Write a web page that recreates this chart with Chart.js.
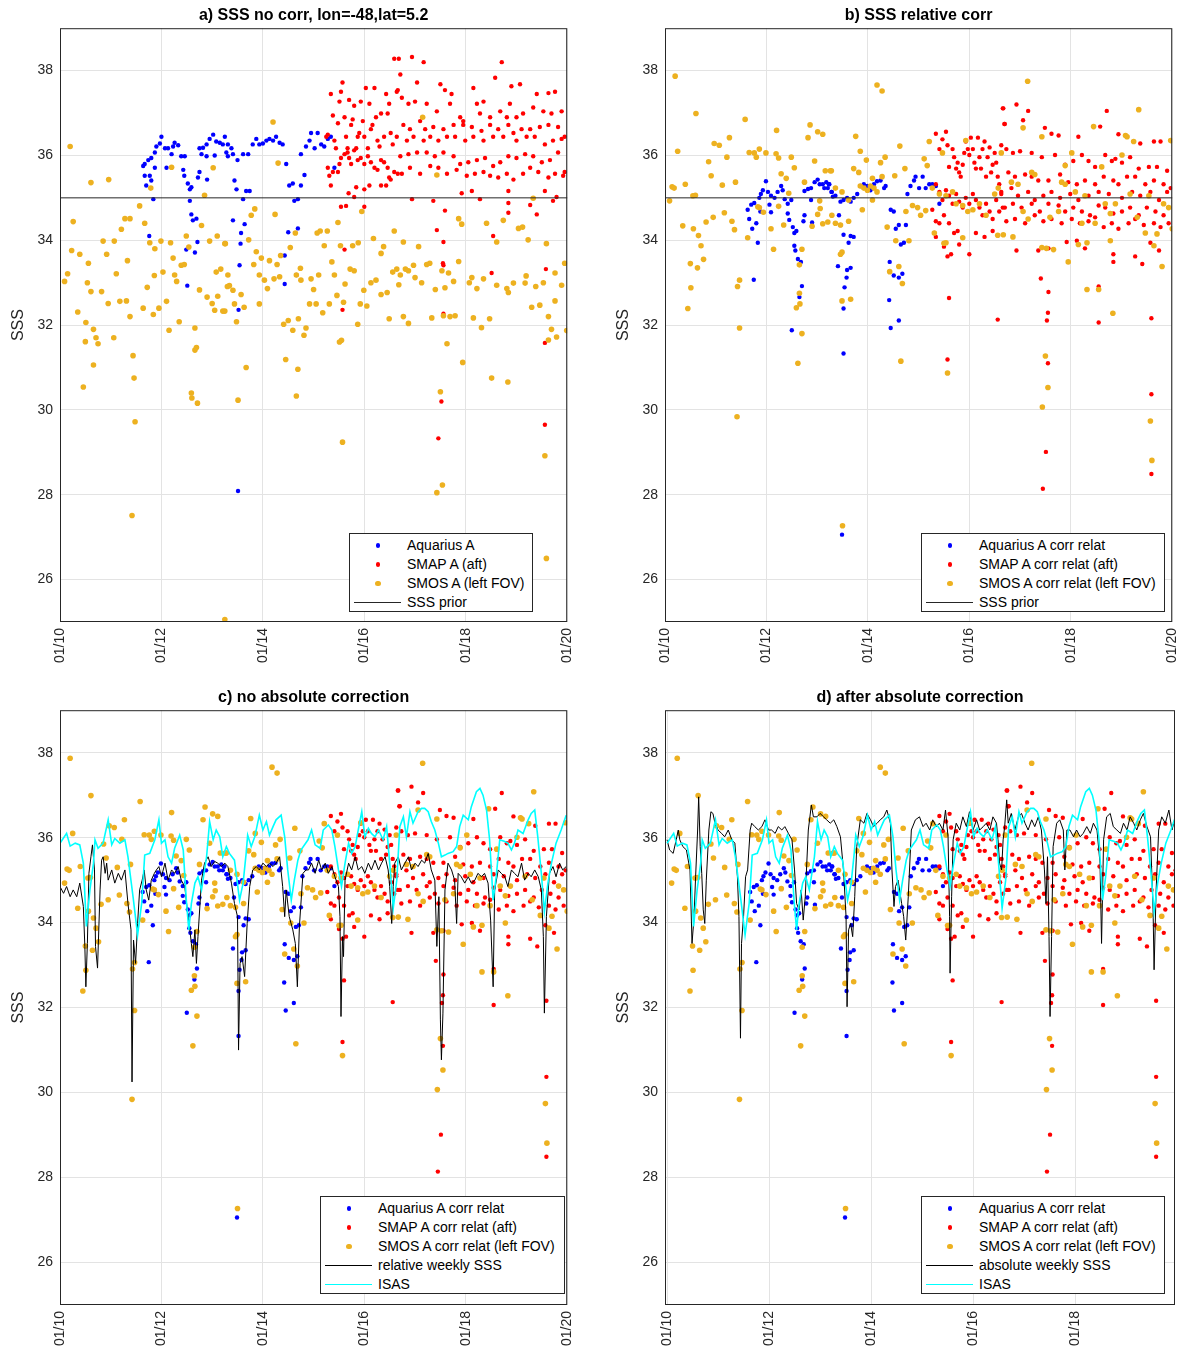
<!DOCTYPE html>
<html>
<head>
<meta charset="utf-8">
<script src="https://cdn.jsdelivr.net/npm/chart.js@4.4.1/dist/chart.umd.min.js"></script>
<style>
  body { margin: 0; background: #fff; width: 1183px; height: 1354px; position: relative; overflow: hidden; }
  canvas { position: absolute; }
  .legend { position: absolute; border: 1px solid #262626; background: #fff; box-sizing: border-box;
            font-family: "Liberation Sans", Arial, sans-serif; font-size: 14px; color: #000; padding-top: 2px; }
  .legend .row { height: 19px; line-height: 19px; position: relative; white-space: nowrap; }
  .legend .mk { position: absolute; left: 0; top: 0; width: 57px; height: 19px; }
  .legend .txt { position: absolute; left: 57px; top: 0; }
  .legend .dot { position: absolute; top: 50%; border-radius: 50%; }
  .legend .ln { position: absolute; left: 4px; width: 47px; top: 9px; }
</style>
</head>
<body>
<canvas id="chart-a" width="590" height="680" style="left:0;top:0"></canvas>
<canvas id="chart-b" width="590" height="680" style="left:605px;top:0"></canvas>
<canvas id="chart-c" width="590" height="681" style="left:0;top:682px"></canvas>
<canvas id="chart-d" width="590" height="681" style="left:605px;top:682px"></canvas>
<div id="legend-a" class="legend" style="left:349px;top:533px;width:184px;height:79px"></div>
<div id="legend-b" class="legend" style="left:921px;top:533px;width:244px;height:79px"></div>
<div id="legend-c" class="legend" style="left:320px;top:1196px;width:245px;height:98px"></div>
<div id="legend-d" class="legend" style="left:921px;top:1196px;width:244px;height:98px"></div>
<script>
// x values are years (10 = Jan 2010)
const yTicks = [26, 28, 30, 32, 34, 36, 38];
const xTicks = [10, 12, 14, 16, 18, 20];
const ssPrior = 35;

// a) no correction
const aquariusRaw = [[11.64,35.75],[11.67,35.8],[11.74,35.89],[11.8,35.94],[11.87,36.07],[11.9,36.21],[11.97,36.28],[12.0,36.44],[12.07,36.17],[12.13,36.17],[12.2,36.03],[12.23,36.21],[12.26,36.3],[12.33,36.24],[12.39,35.98],[12.46,35.98],[11.67,35.52],[11.7,35.29],[11.77,35.52],[11.8,35.41],[11.84,34.97],[11.87,35.71],[12.1,35.71],[12.43,35.66],[12.45,35.52],[12.52,35.34],[12.56,35.2],[12.59,35.25],[12.56,34.93],[12.59,34.61],[12.62,34.47],[12.69,34.51],[11.76,34.1],[12.49,33.78],[12.51,32.93],[12.66,33.71],[12.71,33.96],[12.75,36.17],[12.82,36.18],[12.89,36.26],[12.95,36.39],[13.02,36.49],[13.08,36.33],[13.15,36.3],[13.21,36.26],[13.28,36.07],[13.31,35.98],[12.79,36.03],[12.89,35.98],[13.05,36.0],[12.72,35.48],[12.75,35.61],[12.9,35.43],[13.25,36.44],[13.31,36.26],[13.38,36.17],[13.41,36.03],[13.44,35.41],[13.48,35.2],[13.5,35.89],[13.61,36.03],[13.67,35.16],[13.74,35.16],[13.61,34.97],[13.71,36.03],[13.8,36.26],[13.87,36.39],[13.93,36.26],[14.0,36.28],[14.07,36.35],[14.13,36.39],[14.2,36.35],[14.26,36.44],[14.33,36.3],[14.39,36.26],[13.41,34.47],[13.57,34.17],[13.56,33.92],[13.64,34.38],[13.54,33.41],[13.52,32.36],[13.51,28.09],[14.43,33.64],[14.46,35.8],[14.52,35.29],[14.59,35.34],[14.62,34.93],[14.69,34.97],[14.75,35.29],[14.82,35.54],[14.5,34.19],[14.43,32.97],[14.66,33.18],[14.69,34.28],[14.75,36.03],[14.85,36.21],[14.92,36.35],[14.95,36.53],[15.02,36.17],[15.08,36.53],[15.15,36.26],[15.21,36.21],[15.28,36.39],[15.34,36.44],[15.41,35.71]];

const smapRaw = [[15.25,36.44],[15.28,36.49],[15.34,37.45],[15.38,36.94],[15.41,36.35],[15.44,36.17],[15.48,36.76],[15.51,37.27],[15.54,37.5],[15.57,37.72],[15.61,36.9],[15.64,36.44],[15.67,36.17],[15.7,37.31],[15.74,36.72],[15.77,36.85],[15.8,37.17],[15.84,36.17],[15.87,36.44],[15.9,36.53],[15.93,37.27],[15.97,36.81],[16.0,36.44],[16.03,37.59],[16.07,36.17],[16.1,37.22],[16.13,36.62],[16.16,36.72],[16.2,37.59],[16.23,36.9],[16.26,36.35],[16.3,36.21],[16.33,36.99],[16.39,36.44],[16.43,37.45],[16.46,36.99],[16.49,37.22],[16.52,36.53],[16.56,36.26],[16.59,38.28],[16.66,37.54],[15.28,35.71],[15.31,35.52],[15.34,35.29],[15.38,35.61],[15.48,35.61],[15.51,35.8],[15.54,35.94],[15.61,36.03],[15.67,36.07],[15.7,35.94],[15.74,35.8],[15.8,36.12],[15.87,35.89],[15.93,35.94],[16.0,35.8],[16.07,35.98],[16.13,35.84],[16.2,35.71],[16.26,35.66],[16.33,35.89],[16.39,35.84],[16.46,35.71],[16.52,35.43],[16.59,35.61],[16.66,35.57],[15.54,34.79],[15.64,34.81],[15.61,33.78],[15.57,32.36],[15.69,35.11],[15.8,35.02],[15.84,35.25],[16.0,35.2],[16.1,35.29],[16.33,35.29],[16.43,35.29],[16.49,35.48],[16.0,34.79],
  [16.68,38.28],[16.94,38.32],[17.17,38.2],[16.71,37.91],[17.04,37.72],[17.5,37.68],[17.59,37.54],[17.72,37.45],[18.15,37.59],[18.58,37.83],[18.71,38.2],[18.9,37.63],[19.07,37.68],[19.4,37.45],[19.63,37.47],[19.76,37.5],[16.64,37.5],[16.74,37.36],[16.87,37.22],[17.0,37.27],[17.23,37.22],[17.43,37.04],[17.69,37.22],[17.89,36.9],[17.95,36.81],[18.22,37.22],[18.28,36.99],[18.35,37.27],[18.48,36.9],[18.68,37.04],[18.81,36.9],[18.87,37.22],[19.0,36.9],[19.13,36.99],[19.33,37.13],[19.53,37.04],[19.69,36.99],[19.89,37.04],[16.77,36.72],[16.9,36.62],[17.1,36.81],[17.2,36.62],[17.36,36.67],[17.56,36.62],[17.76,36.72],[17.95,36.72],[18.12,36.67],[18.31,36.58],[18.48,36.72],[18.64,36.62],[18.84,36.72],[18.94,36.53],[19.1,36.62],[19.27,36.62],[19.46,36.67],[19.63,36.72],[19.82,36.67],[19.95,36.44],[16.64,36.44],[16.84,36.35],[16.97,36.44],[17.17,36.35],[17.3,36.44],[17.46,36.35],[17.63,36.44],[17.79,36.44],[17.99,36.35],[18.15,36.44],[18.35,36.35],[18.54,36.44],[18.74,36.44],[19.0,36.35],[19.2,36.44],[19.36,36.44],[19.56,36.26],[19.72,36.35],[19.89,36.39],[16.71,35.98],[16.87,36.03],[17.04,36.07],[17.23,36.07],[17.39,35.98],[17.56,36.07],[17.76,35.98],[17.89,35.8],[18.05,35.84],[18.22,35.89],[18.38,35.94],[18.54,35.75],[18.68,35.84],[18.84,35.98],[19.0,35.94],[19.17,36.03],[19.33,35.98],[19.5,35.84],[19.66,35.89],[19.82,36.07],[19.95,35.61],[16.74,35.57],[16.9,35.71],[17.1,35.57],[17.3,35.75],[17.46,35.71],[17.63,35.57],[17.82,35.66],[18.02,35.52],[18.18,35.57],[18.35,35.61],[18.48,35.52],[18.64,35.48],[18.81,35.57],[18.94,35.43],[19.13,35.57],[19.27,35.71],[19.43,35.61],[19.63,35.48],[19.76,35.57],[19.92,35.52],[16.94,34.97],[17.36,34.93],[17.59,34.7],[17.92,35.11],[18.12,35.16],[18.28,34.97],[18.84,35.16],[18.84,34.88],[18.84,34.65],[19.27,34.83],[19.4,34.61],[19.56,35.16],[19.72,34.93],[19.79,35.02],[17.43,34.24],[17.56,33.96],[18.54,34.1],[17.55,33.46],[17.56,33.41],[18.51,33.23],[17.56,32.27],[19.58,33.32],[19.56,31.58],[17.52,30.2],[17.46,29.33],[19.56,29.65]];

const smosRaw = [[10.2,36.21],[10.61,35.36],[10.96,35.43],[12.2,35.72],[11.79,35.23],[13.02,35.71],[12.85,35.06],[11.57,34.81],[10.26,34.44],[11.28,34.51],[11.38,34.51],[11.67,34.4],[11.21,34.26],[10.85,33.98],[11.07,33.98],[11.77,33.94],[11.87,33.8],[11.99,33.98],[12.18,33.94],[12.49,34.1],[12.54,33.84],[12.79,34.35],[12.95,33.98],[13.1,34.1],[13.26,33.92],[10.23,33.76],[10.39,33.67],[10.56,33.46],[10.92,33.67],[11.33,33.52],[12.23,33.58],[12.39,33.41],[12.45,33.43],[10.15,33.21],[10.09,33.03],[10.54,33.0],[10.61,32.79],[10.82,32.79],[11.11,33.21],[11.72,32.89],[11.86,33.17],[12.03,33.25],[12.26,33.18],[12.3,33.03],[12.75,32.83],[13.17,33.32],[13.08,33.25],[13.3,32.91],[10.35,32.31],[10.51,32.06],[10.66,31.9],[10.95,32.51],[11.18,32.56],[11.31,32.57],[11.38,32.2],[11.64,32.4],[11.84,32.25],[11.95,32.4],[12.1,32.56],[12.9,32.66],[13.0,32.51],[13.11,32.68],[13.05,32.35],[13.21,32.33],[10.5,31.61],[10.71,31.7],[10.75,31.56],[11.06,31.7],[12.15,31.88],[12.35,32.08],[12.66,31.93],[10.66,31.06],[11.44,31.28],[11.46,30.75],[12.66,31.41],[12.69,31.47],[10.46,30.54],[12.59,30.4],[12.6,30.28],[12.71,30.16],[11.48,29.72],[11.42,27.51],
  [14.2,36.79],[14.3,35.82],[13.84,34.74],[13.77,34.59],[14.24,34.61],[13.72,34.01],[13.25,33.92],[13.87,33.73],[13.82,33.43],[13.97,33.58],[14.13,33.52],[14.28,33.43],[14.35,33.64],[14.54,33.83],[14.64,34.17],[14.74,33.34],[15.07,34.17],[15.13,34.22],[15.27,34.22],[15.21,33.87],[15.36,33.49],[15.48,34.42],[15.53,33.87],[15.77,33.87],[15.88,33.94],[15.95,34.68],[16.18,34.04],[16.33,33.69],[16.38,33.85],[16.59,34.22],[16.64,33.32],[13.34,32.93],[13.41,32.82],[13.31,33.18],[13.57,32.72],[13.44,32.5],[13.63,32.42],[13.93,32.5],[13.93,33.18],[14.03,33.06],[14.09,32.86],[14.22,33.09],[14.33,33.14],[14.75,33.06],[14.66,33.18],[14.95,33.09],[15.0,32.84],[15.1,33.18],[15.41,33.18],[15.62,32.97],[15.72,33.32],[15.8,33.28],[15.99,32.82],[16.13,33.0],[16.23,33.06],[16.33,32.72],[16.45,32.77],[16.56,33.25],[13.25,32.33],[13.48,32.08],[14.41,32.02],[14.5,32.11],[14.59,31.88],[14.7,32.15],[14.81,31.76],[14.85,31.93],[14.92,32.5],[15.05,32.5],[15.18,32.29],[15.31,32.5],[15.46,32.7],[15.59,32.54],[15.92,32.5],[16.05,32.45],[15.87,32.02],[16.49,32.15],[15.51,31.6],[15.55,31.64],[13.67,31.0],[14.45,31.19],[14.69,30.96],[13.51,30.23],[14.66,30.33],[15.57,29.24],[13.25,25.06],
  [17.15,36.9],[17.43,35.54],[16.77,33.96],[17.07,33.85],[16.81,33.32],[16.97,33.41],[17.23,33.43],[17.29,33.46],[17.53,33.28],[17.66,33.23],[17.86,33.5],[17.92,34.38],[17.86,34.51],[18.41,34.4],[18.61,33.96],[18.74,34.47],[19.04,34.28],[19.12,34.31],[19.23,34.01],[19.33,34.99],[19.59,33.92],[19.95,33.46],[16.71,33.18],[16.87,33.28],[16.68,32.95],[17.0,33.12],[17.13,33.0],[17.4,32.84],[17.59,32.88],[17.76,33.03],[18.07,33.0],[18.12,33.12],[18.22,32.86],[18.35,33.09],[18.61,32.94],[18.81,32.86],[18.84,32.77],[18.94,32.99],[19.17,32.99],[19.19,33.16],[19.38,32.91],[19.53,33.0],[19.76,33.23],[19.89,32.94],[16.77,32.2],[16.87,32.04],[17.33,32.17],[17.56,32.22],[17.69,32.2],[17.79,32.22],[18.15,32.17],[18.31,31.94],[18.47,32.15],[19.3,32.42],[19.46,32.47],[19.63,32.2],[19.76,32.57],[19.69,31.9],[19.63,31.65],[19.79,31.72],[19.99,31.87],[17.63,31.56],[17.94,31.12],[18.51,30.75],[18.83,30.66],[17.5,30.43],[17.43,28.05],[17.54,28.23],[19.56,28.92],[19.59,26.5]];

// b), c), d) relative correction
const aquariusRel = [[11.63,34.72],[11.7,34.84],[11.76,34.88],[11.86,35.0],[11.89,35.09],[11.93,35.18],[11.99,35.39],[12.03,35.14],[12.09,35.05],[12.16,35.0],[12.22,35.14],[12.29,35.28],[12.32,35.18],[12.36,34.97],[12.42,34.86],[12.49,34.95],[11.66,34.5],[11.72,34.27],[11.8,34.4],[11.83,33.94],[11.88,34.68],[12.06,34.84],[12.09,34.66],[12.42,34.63],[12.45,34.48],[12.52,34.31],[12.55,34.17],[12.59,34.22],[12.55,33.87],[12.57,33.76],[12.62,33.56],[12.68,33.49],[11.75,33.07],[12.5,31.88],[12.65,32.66],[12.7,32.92],[12.75,35.16],[12.82,35.21],[12.88,35.23],[12.95,35.37],[13.01,35.43],[13.05,35.32],[13.11,35.32],[13.14,35.23],[13.18,35.37],[13.21,35.23],[13.24,35.32],[13.28,35.14],[13.31,35.03],[12.88,34.95],[12.73,34.45],[12.75,34.59],[12.9,34.42],[13.23,35.32],[13.29,35.14],[13.36,35.05],[13.46,34.91],[13.52,34.95],[13.59,35.0],[13.66,34.91],[13.72,35.0],[13.43,34.59],[13.46,34.36],[13.52,34.13],[13.62,33.94],[13.66,34.1],[13.72,34.08],[13.41,33.39],[13.59,33.3],[13.66,33.35],[13.58,33.12],[13.54,32.89],[13.52,32.39],[13.52,31.33],[13.49,27.06],[13.79,35.09],[13.85,35.28],[13.92,35.32],[13.99,35.28],[14.05,35.18],[14.12,35.32],[14.18,35.39],[14.25,35.41],[14.32,35.23],[14.35,35.28],[14.45,34.72],[14.51,34.68],[14.55,34.27],[14.61,34.36],[14.65,33.9],[14.71,33.94],[14.75,34.36],[14.43,33.49],[14.51,33.17],[14.61,33.12],[14.68,33.21],[14.42,32.59],[14.61,32.11],[14.45,31.93],[14.78,35.09],[14.84,35.28],[14.91,35.41],[14.94,35.5],[15.01,35.23],[15.08,35.5],[15.14,35.23],[15.21,35.32],[15.27,35.32],[15.34,35.28],[15.41,34.86]];

const smapRel = [[15.34,36.51],[15.41,36.15],[15.47,36.38],[15.54,36.56],[15.57,36.24],[15.6,35.73],[15.67,36.15],[15.7,35.96],[15.74,35.69],[15.77,35.83],[15.8,35.6],[15.83,35.5],[15.87,35.78],[15.9,36.06],[15.93,36.33],[15.97,36.15],[16.0,36.01],[16.03,36.42],[16.07,36.15],[16.1,35.83],[16.13,35.69],[16.17,36.42],[16.2,35.96],[16.23,35.69],[16.26,36.15],[16.3,36.33],[16.33,35.5],[16.36,35.96],[16.4,36.19],[16.43,35.6],[16.46,35.78],[16.5,36.06],[16.53,35.83],[16.56,35.5],[16.59,35.32],[16.63,35.09],[16.66,37.11],[16.69,36.74],[15.34,35.32],[15.41,35.14],[15.47,34.95],[15.54,35.18],[15.6,35.05],[15.67,34.86],[15.74,35.09],[15.8,34.91],[15.87,34.77],[15.93,35.0],[16.0,34.86],[16.07,35.09],[16.13,34.95],[16.2,34.77],[16.26,34.59],[16.33,34.86],[16.4,34.68],[16.46,34.5],[16.53,34.95],[16.59,34.68],[16.66,34.77],[15.27,34.72],[15.34,34.45],[15.41,34.4],[15.5,34.59],[15.6,34.4],[15.7,34.17],[15.77,34.22],[15.31,34.17],[15.34,34.08],[15.5,33.85],[15.57,33.62],[15.64,33.67],[15.8,33.9],[16.0,33.67],[16.13,34.17],[16.3,34.08],[16.46,34.22],[15.6,32.64],[15.57,31.19],[16.56,32.13],
  [16.67,37.11],[16.93,37.2],[17.16,37.05],[16.7,36.74],[17.06,36.83],[17.49,36.65],[17.62,36.51],[17.76,36.47],[18.15,36.44],[18.58,36.68],[18.71,37.05],[18.94,36.5],[19.08,36.47],[19.37,36.28],[19.64,36.33],[19.77,36.33],[16.63,36.24],[16.73,36.15],[16.86,36.06],[17.0,36.1],[17.23,36.06],[17.43,35.96],[17.69,36.01],[17.89,35.78],[18.05,35.87],[18.22,36.01],[18.35,35.87],[18.48,35.73],[18.68,36.01],[18.81,35.87],[18.88,35.92],[19.01,35.83],[19.17,35.96],[19.34,35.69],[19.54,35.73],[19.7,35.73],[19.9,35.64],[16.77,35.6],[16.9,35.5],[17.1,35.55],[17.23,35.5],[17.36,35.41],[17.56,35.41],[17.79,35.55],[17.95,35.37],[18.12,35.32],[18.28,35.41],[18.48,35.32],[18.65,35.5],[18.84,35.41],[18.94,35.32],[19.11,35.5],[19.27,35.5],[19.47,35.32],[19.64,35.41],[19.83,35.32],[19.97,35.23],[16.63,35.14],[16.83,35.23],[16.96,35.05],[17.16,35.14],[17.29,34.95],[17.46,35.05],[17.62,35.14],[17.79,35.0],[17.99,35.09],[18.15,34.95],[18.35,35.05],[18.55,35.14],[18.75,35.09],[19.01,35.0],[19.21,35.14],[19.37,35.05],[19.57,35.14],[19.74,34.95],[19.9,35.14],[16.7,34.77],[16.86,34.86],[17.03,34.77],[17.23,34.86],[17.39,34.68],[17.56,34.86],[17.76,34.82],[17.89,34.68],[18.05,34.77],[18.22,34.68],[18.38,34.59],[18.55,34.82],[18.68,34.77],[18.84,34.63],[19.01,34.68],[19.17,34.77],[19.34,34.59],[19.5,34.77],[19.67,34.68],[19.83,34.59],[16.73,34.45],[16.9,34.5],[17.1,34.4],[17.29,34.59],[17.46,34.45],[17.62,34.5],[17.82,34.4],[18.02,34.5],[18.18,34.4],[18.35,34.45],[18.48,34.54],[18.65,34.31],[18.81,34.4],[18.94,34.27],[19.14,34.4],[19.27,34.5],[19.44,34.36],[19.64,34.4],[19.77,34.31],[19.93,34.4],[16.93,33.76],[17.36,33.76],[17.56,33.81],[17.92,33.96],[18.12,33.99],[18.28,33.81],[18.84,33.67],[18.84,33.49],[19.27,33.62],[19.41,33.44],[19.57,33.94],[19.74,33.76],[17.41,33.1],[17.56,32.78],[17.55,32.29],[17.53,32.11],[18.55,32.91],[18.55,32.06],[19.59,32.16],[17.55,31.1],[17.51,29.01],[17.45,28.14],[19.59,30.37],[19.59,28.49]];

const smosRel = [[10.2,37.87],[10.61,36.99],[11.58,36.85],[12.2,36.59],[12.86,36.72],[13.01,36.56],[13.11,36.5],[10.97,36.28],[11.07,36.24],[11.27,36.42],[10.25,36.1],[11.22,35.96],[11.66,36.07],[11.76,36.06],[11.8,35.96],[11.86,36.15],[11.99,36.06],[12.19,36.04],[12.24,35.94],[12.49,35.96],[12.82,36.42],[12.95,35.87],[10.86,35.85],[12.55,35.71],[13.16,35.64],[13.28,35.64],[10.14,35.26],[10.18,35.23],[10.4,35.32],[10.91,35.52],[11.13,35.3],[11.39,35.37],[12.29,35.57],[12.39,35.46],[10.55,35.05],[10.6,35.06],[11.83,34.79],[11.86,34.77],[11.94,34.66],[12.24,34.8],[12.44,35.11],[12.75,35.37],[13.01,34.61],[13.06,34.75],[13.05,34.93],[10.09,34.93],[10.35,34.34],[10.56,34.27],[10.66,34.11],[10.81,34.43],[10.95,34.54],[11.17,34.65],[11.32,34.45],[11.37,34.25],[11.63,34.06],[12.09,34.27],[12.14,33.79],[12.34,34.36],[12.7,33.79],[12.9,34.33],[13.11,34.39],[13.21,34.43],[10.71,33.87],[10.5,33.45],[10.64,33.35],[10.76,33.55],[11.47,33.06],[11.43,32.91],[10.51,32.88],[10.45,32.39],[12.65,33.42],[12.65,32.75],[12.66,32.5],[12.59,32.41],[11.47,31.93],[12.7,31.8],[12.62,31.1],[11.42,29.84],
  [14.18,37.66],[14.28,37.52],[13.76,36.45],[13.85,36.1],[14.63,36.22],[14.34,35.96],[14.73,35.69],[13.97,35.89],[13.72,35.69],[13.82,35.6],[14.25,35.83],[14.09,35.46],[14.28,35.5],[14.53,35.52],[15.11,35.92],[15.17,35.76],[15.21,36.33],[15.93,36.35],[15.47,36.06],[13.26,35.64],[13.36,35.23],[13.49,35.14],[13.62,34.95],[13.85,35.28],[13.92,35.23],[13.99,35.18],[14.05,35.28],[14.12,35.23],[14.18,35.14],[13.89,34.72],[14.09,34.95],[14.75,34.68],[14.88,34.82],[14.98,34.77],[15.04,34.59],[15.14,34.7],[15.27,35.23],[15.41,35.09],[15.54,35.05],[15.67,35.14],[15.74,34.86],[15.87,34.82],[15.97,34.68],[16.07,34.72],[16.2,34.86],[16.33,34.59],[16.5,35.09],[13.29,34.59],[13.36,34.4],[13.46,34.36],[13.62,34.45],[14.38,34.31],[14.55,33.99],[14.81,33.99],[15.54,33.94],[15.5,33.93],[15.31,34.17],[15.87,34.06],[13.49,33.72],[13.46,33.67],[14.43,33.26],[14.61,33.38],[14.68,32.98],[13.49,32.57],[13.66,32.61],[14.65,31.15],[15.57,30.87],[13.5,27.27],[16.56,34.12],
  [17.15,37.75],[19.34,37.08],[18.45,36.68],[17.06,36.65],[17.43,36.44],[19.08,36.47],[19.11,36.44],[19.24,36.33],[19.97,36.35],[16.63,36.06],[18.02,36.06],[17.89,35.76],[18.61,35.73],[19.01,36.01],[17.23,35.6],[17.29,35.55],[16.57,35.23],[16.83,35.37],[16.96,35.32],[17.82,35.37],[17.89,35.32],[18.09,35.14],[18.28,35.05],[18.68,34.86],[18.88,34.86],[19.17,35.09],[19.54,35.05],[19.83,34.86],[19.93,34.77],[17.06,34.68],[17.16,34.5],[17.59,34.54],[17.76,34.68],[18.22,34.4],[18.48,34.4],[18.78,34.63],[19.31,34.54],[19.47,34.17],[19.7,34.15],[20.0,34.27],[16.67,34.13],[16.86,34.08],[17.43,33.83],[17.52,33.81],[17.66,33.78],[18.15,33.9],[18.32,33.94],[18.78,33.99],[19.64,33.87],[17.95,33.49],[19.8,33.38],[18.32,32.84],[18.55,32.84],[18.83,32.28],[17.5,31.27],[17.55,30.53],[17.44,30.07],[19.57,29.74],[19.6,28.81]];

const isas = [[10.0,35.87],[10.13,36.1],[10.2,35.8],[10.3,35.87],[10.39,35.83],[10.46,35.4],[10.52,33.91],[10.59,34.77],[10.66,35.4],[10.69,35.95],[10.75,35.75],[10.85,35.87],[10.95,36.42],[11.02,35.83],[11.08,35.98],[11.18,35.87],[11.28,35.95],[11.34,35.55],[11.44,34.61],[11.53,33.71],[11.61,34.45],[11.67,35.59],[11.77,35.63],[11.87,35.95],[11.95,36.42],[12.0,35.87],[12.07,35.95],[12.13,35.55],[12.2,35.4],[12.26,35.75],[12.36,36.06],[12.43,35.71],[12.49,34.53],[12.54,33.83],[12.59,34.45],[12.66,34.93],[12.72,35.08],[12.79,34.77],[12.89,35.55],[12.95,36.38],[13.02,35.95],[13.08,36.18],[13.15,36.02],[13.21,35.55],[13.28,35.79],[13.34,35.63],[13.44,35.47],[13.54,34.53],[13.61,34.93],[13.67,35.63],[13.7,36.06],[13.77,35.79],[13.84,36.02],[13.93,36.53],[14.0,36.18],[14.07,36.38],[14.13,36.06],[14.2,36.26],[14.26,36.42],[14.36,36.53],[14.43,36.02],[14.49,35.24],[14.56,34.53],[14.62,35.0],[14.69,35.47],[14.75,35.71],[14.89,35.95],[14.96,36.18],[15.03,35.83],[15.13,35.75],[15.19,36.18],[15.29,36.3],[15.36,36.18],[15.42,35.79],[15.49,35.24],[15.55,34.85],[15.62,35.4],[15.69,35.87],[15.75,35.63],[15.82,35.79],[15.88,36.18],[15.95,36.61],[16.01,36.02],[16.08,36.22],[16.14,36.1],[16.21,36.02],[16.28,36.18],[16.37,35.95],[16.44,36.26],[16.5,35.4],[16.57,34.34],[16.64,35.0],[16.7,36.26],[16.77,36.49],[16.83,36.02],[16.9,36.61],[16.96,36.34],[17.06,36.61],[17.13,36.69],[17.19,36.69],[17.26,36.61],[17.32,36.38],[17.39,36.18],[17.46,35.87],[17.52,35.55],[17.59,35.59],[17.65,35.63],[17.75,35.67],[17.82,35.79],[17.88,36.26],[17.95,36.53],[18.05,36.42],[18.11,36.73],[18.21,37.08],[18.28,37.16],[18.34,37.0],[18.41,36.65],[18.47,35.95],[18.54,34.53],[18.6,35.08],[18.67,35.95],[18.77,35.91],[18.83,35.87],[18.9,35.71],[18.96,35.87],[19.03,36.18],[19.13,36.1],[19.23,36.42],[19.29,36.57],[19.36,36.65],[19.42,36.02],[19.49,35.16],[19.55,34.26],[19.62,34.93],[19.69,35.4],[19.78,35.87],[19.88,36.18],[19.98,36.53]];

const relWeekly = [[10.0,34.85],[10.07,34.69],[10.13,34.85],[10.2,34.61],[10.26,34.77],[10.33,34.61],[10.39,34.93],[10.46,34.38],[10.49,33.44],[10.51,32.49],[10.54,33.51],[10.57,35.16],[10.61,35.55],[10.64,35.83],[10.68,35.24],[10.7,33.44],[10.74,32.93],[10.79,34.77],[10.82,35.47],[10.85,35.55],[10.89,35.16],[10.92,35.4],[10.95,35.0],[11.02,35.24],[11.08,34.93],[11.15,35.16],[11.21,35.0],[11.28,35.24],[11.34,34.45],[11.4,33.83],[11.42,30.25],[11.45,33.59],[11.49,33.04],[11.53,33.98],[11.57,34.77],[11.62,35.0],[11.66,35.24],[11.7,34.77],[11.75,34.53],[11.8,35.0],[11.86,35.16],[11.9,35.24],[11.95,35.32],[12.0,35.08],[12.07,35.4],[12.13,35.0],[12.2,35.24],[12.26,35.16],[12.33,35.32],[12.39,35.0],[12.46,34.85],[12.51,34.3],[12.56,33.83],[12.59,33.51],[12.62,33.2],[12.66,33.83],[12.69,33.04],[12.72,33.67],[12.79,35.0],[12.85,35.4],[12.92,35.55],[12.98,35.32],[13.05,35.44],[13.11,35.4],[13.18,35.32],[13.25,35.4],[13.31,35.32],[13.38,34.93],[13.44,34.45],[13.5,34.14],[13.52,31.0],[13.55,33.04],[13.59,33.2],[13.64,32.73],[13.69,33.98],[13.74,34.85],[13.8,35.24],[13.87,35.32],[13.93,35.24],[14.0,35.4],[14.07,35.32],[14.13,35.4],[14.2,35.32],[14.26,35.4],[14.33,35.55],[14.39,34.85],[14.43,34.14],[14.46,34.77],[14.52,34.14],[14.59,33.83],[14.64,33.51],[14.68,32.49],[14.72,33.91],[14.79,35.16],[14.85,35.24],[14.9,35.24],[14.96,35.4],[15.03,35.16],[15.1,35.47],[15.16,35.24],[15.23,35.4],[15.29,35.16],[15.36,35.32],[15.42,35.08],[15.49,34.85],[15.52,34.14],[15.54,31.79],[15.57,33.67],[15.59,33.2],[15.62,35.0],[15.69,35.4],[15.75,35.24],[15.82,35.55],[15.88,35.24],[15.95,35.32],[16.01,35.16],[16.08,35.4],[16.14,35.24],[16.21,35.47],[16.28,35.24],[16.34,35.4],[16.41,35.55],[16.47,35.24],[16.5,34.85],[16.54,33.98],[16.57,34.85],[16.6,35.4],[16.67,35.55],[16.73,35.24],[16.8,35.4],[16.87,35.55],[16.93,35.24],[17.0,35.4],[17.06,35.32],[17.13,35.47],[17.19,35.4],[17.26,35.63],[17.32,35.24],[17.39,35.0],[17.43,33.44],[17.47,34.61],[17.5,31.71],[17.52,30.77],[17.55,31.87],[17.59,34.77],[17.65,35.4],[17.72,35.24],[17.78,35.0],[17.82,33.98],[17.85,35.16],[17.91,35.08],[17.98,34.93],[18.05,35.08],[18.11,34.93],[18.18,35.0],[18.24,35.16],[18.31,35.08],[18.37,35.16],[18.44,34.93],[18.49,34.06],[18.54,32.49],[18.57,34.77],[18.64,35.24],[18.7,35.16],[18.77,35.08],[18.83,34.85],[18.9,35.24],[18.96,35.16],[19.03,35.08],[19.1,35.4],[19.16,35.0],[19.23,35.16],[19.29,35.08],[19.36,35.24],[19.43,35.08],[19.49,34.77],[19.53,33.67],[19.55,31.87],[19.59,34.14],[19.65,35.16],[19.72,35.32],[19.78,35.08],[19.85,35.4],[19.91,35.24],[19.98,35.32]];

const absWeekly = [[10.0,35.95],[10.05,35.71],[10.12,35.63],[10.18,35.95],[10.22,36.18],[10.25,35.95],[10.31,35.79],[10.38,35.71],[10.45,35.24],[10.49,33.51],[10.53,34.14],[10.56,35.08],[10.6,36.18],[10.62,36.96],[10.65,35.79],[10.68,35.16],[10.71,34.3],[10.74,33.98],[10.77,35.0],[10.82,36.18],[10.86,36.61],[10.9,36.57],[10.94,36.34],[11.0,36.18],[11.07,36.1],[11.13,36.02],[11.2,36.18],[11.27,35.95],[11.33,35.87],[11.38,35.08],[11.41,34.14],[11.44,31.28],[11.46,33.51],[11.5,34.14],[11.54,35.08],[11.58,35.24],[11.63,36.18],[11.66,36.34],[11.72,36.26],[11.79,36.18],[11.86,36.26],[11.92,36.42],[11.99,36.18],[12.05,36.18],[12.12,36.1],[12.18,36.26],[12.25,36.18],[12.31,36.26],[12.38,36.1],[12.45,35.95],[12.5,35.24],[12.54,34.45],[12.59,34.3],[12.63,34.77],[12.67,34.06],[12.71,34.61],[12.77,36.18],[12.83,36.77],[12.87,36.49],[12.94,36.49],[13.0,36.57],[13.07,36.49],[13.13,36.42],[13.2,36.34],[13.27,36.42],[13.33,36.26],[13.4,36.02],[13.46,35.24],[13.51,34.14],[13.53,32.02],[13.56,33.83],[13.6,33.98],[13.64,33.67],[13.68,34.61],[13.72,35.79],[13.79,36.42],[13.86,36.34],[13.92,36.57],[13.99,36.42],[14.05,36.26],[14.12,36.34],[14.18,36.42],[14.25,36.49],[14.31,36.65],[14.38,36.34],[14.41,35.24],[14.45,34.38],[14.48,34.85],[14.53,35.0],[14.6,34.45],[14.64,34.14],[14.68,33.59],[14.73,34.61],[14.79,36.18],[14.87,36.42],[14.95,36.49],[15.02,36.26],[15.08,36.34],[15.15,36.18],[15.21,36.42],[15.28,36.26],[15.34,36.34],[15.41,36.18],[15.46,36.65],[15.51,36.02],[15.54,34.14],[15.55,32.81],[15.58,34.61],[15.61,35.95],[15.67,36.34],[15.74,36.18],[15.8,36.49],[15.87,36.26],[15.93,36.61],[16.0,36.18],[16.07,36.42],[16.13,36.18],[16.2,36.26],[16.26,36.34],[16.33,36.18],[16.39,36.49],[16.46,36.34],[16.49,35.95],[16.52,35.4],[16.56,35.24],[16.59,35.95],[16.62,36.26],[16.66,36.89],[16.69,36.34],[16.75,36.57],[16.82,36.18],[16.89,36.49],[16.95,36.57],[17.02,36.34],[17.08,36.18],[17.15,36.42],[17.21,36.26],[17.28,36.49],[17.34,36.18],[17.4,35.24],[17.43,34.45],[17.46,35.55],[17.49,33.67],[17.51,31.79],[17.54,33.67],[17.57,35.79],[17.64,36.34],[17.7,36.42],[17.77,36.18],[17.8,35.24],[17.84,36.18],[17.9,36.18],[17.97,36.02],[18.03,36.18],[18.1,36.02],[18.16,36.1],[18.23,36.26],[18.3,36.1],[18.36,36.34],[18.43,36.18],[18.49,35.4],[18.52,33.51],[18.56,35.95],[18.62,36.49],[18.69,36.57],[18.75,36.26],[18.82,36.18],[18.89,36.1],[18.95,36.34],[19.02,36.18],[19.08,36.49],[19.15,36.34],[19.21,36.18],[19.28,36.42],[19.34,36.57],[19.41,36.26],[19.48,36.02],[19.53,34.3],[19.55,32.89],[19.59,34.77],[19.64,36.18],[19.7,36.49],[19.77,36.34],[19.84,36.65],[19.9,36.18],[19.97,36.49]];

const FONT = '"Liberation Sans", Arial, Helvetica, sans-serif';
const BLUE = "#0000ff";
const RED = "#ff0000";
const ORANGE = "#edb120";
const CYAN = "#00ffff";

const pts = (arr) => arr.map((p) => ({ x: p[0], y: p[1] }));

function dots(label, arr, color, r, order) {
  return { label: label, data: pts(arr), backgroundColor: color, borderColor: color, borderWidth: 0,
    pointRadius: r, pointHoverRadius: r, showLine: false, order: order, mk: "dot", mkSize: r };
}
function line(label, arr, color, w, order) {
  return { label: label, data: pts(arr), borderColor: color, backgroundColor: color, borderWidth: w,
    pointRadius: 0, showLine: true, tension: 0, order: order, mk: "line" };
}

const boxPlugin = {
  id: "box",
  afterDraw(chart) {
    const a = chart.chartArea;
    const ctx = chart.ctx;
    ctx.save();
    ctx.strokeStyle = "#262626";
    ctx.lineWidth = 1;
    ctx.strokeRect(a.left + 0.5, a.top + 0.5, a.right - a.left - 1, a.bottom - a.top - 1);
    ctx.restore();
  },
};

function renderLegend(id, datasets) {
  const box = document.getElementById(id);
  box.innerHTML = datasets.map((d) => {
    const mk = d.mk === "dot"
      ? `<span class="dot" style="left:${28 - d.mkSize}px;width:${d.mkSize * 2}px;height:${d.mkSize * 2}px;margin-top:-${d.mkSize}px;background:${d.backgroundColor}"></span>`
      : `<span class="ln" style="border-top:${d.borderWidth}px solid ${d.borderColor}"></span>`;
    return `<div class="row"><span class="mk">${mk}</span><span class="txt">${d.label}</span></div>`;
  }).join("");
}

function renderChart(pId, pTitle, pDatasets, xMin, xMax) {
  new Chart(document.getElementById(pId), {
    type: "scatter",
    data: { datasets: pDatasets },
    options: {
      responsive: false,
      animation: false,
      devicePixelRatio: 1,
      layout: { padding: { left: 0, right: 20, top: 0, bottom: 0 } },
      plugins: {
        legend: { display: false },
        tooltip: { enabled: false },
        title: { display: true, text: pTitle, fullSize: false, color: "#000",
          font: { family: FONT, size: 16, weight: "bold" }, padding: { top: 6, bottom: 3 } },
      },
      scales: {
        x: {
          type: "linear", min: xMin, max: xMax,
          afterBuildTicks: (s) => { s.ticks = xTicks.filter((v) => v >= xMin && v <= xMax).map((v) => ({ value: v })); },
          afterFit: (s) => { s.height = 58; },
          grid: { color: "#e3e3e3", drawTicks: false },
          border: { display: false },
          ticks: { minRotation: 90, maxRotation: 90, padding: 6, color: "#262626",
            font: { family: FONT, size: 14 }, callback: (v) => "01/" + String(v).padStart(2, "0") },
        },
        y: {
          min: 25, max: 39,
          afterBuildTicks: (s) => { s.ticks = yTicks.map((v) => ({ value: v })); },
          afterFit: (s) => { s.width = 60; },
          grid: { color: "#e3e3e3", drawTicks: false },
          border: { display: false },
          title: { display: true, text: "SSS", color: "#262626", font: { family: FONT, size: 16 }, padding: { top: 9, bottom: 0 } },
          ticks: { padding: 7, color: "#262626", font: { family: FONT, size: 14 } },
        },
      },
    },
    plugins: [boxPlugin],
  });
}

const priorLine = [[9.9, ssPrior], [20.1, ssPrior]];

const setA = [
  dots("Aquarius A", aquariusRaw, BLUE, 2.2, 4),
  dots("SMAP A (aft)", smapRaw, RED, 2.2, 3),
  dots("SMOS A (left FOV)", smosRaw, ORANGE, 2.8, 2),
  line("SSS prior", priorLine, "#262626", 1, 1),
];
const setB = [
  dots("Aquarius A corr relat", aquariusRel, BLUE, 2.2, 4),
  dots("SMAP A corr relat (aft)", smapRel, RED, 2.2, 3),
  dots("SMOS A corr relat (left FOV)", smosRel, ORANGE, 2.8, 2),
  line("SSS prior", priorLine, "#262626", 1, 1),
];
const setC = [
  dots("Aquarius A corr relat", aquariusRel, BLUE, 2.2, 5),
  dots("SMAP A corr relat (aft)", smapRel, RED, 2.2, 4),
  dots("SMOS A corr relat (left FOV)", smosRel, ORANGE, 2.8, 3),
  line("relative weekly SSS", relWeekly, "#000000", 1, 2),
  line("ISAS", isas, CYAN, 1.6, 1),
];
const setD = [
  dots("Aquarius A corr relat", aquariusRel, BLUE, 2.2, 5),
  dots("SMAP A corr relat (aft)", smapRel, RED, 2.2, 4),
  dots("SMOS A corr relat (left FOV)", smosRel, ORANGE, 2.8, 3),
  line("absolute weekly SSS", absWeekly, "#000000", 1, 2),
  line("ISAS", isas, CYAN, 1.6, 1),
];

renderChart("chart-a", "a) SSS no corr, lon=-48,lat=5.2", setA, 10, 20);
renderChart("chart-b", "b) SSS relative corr", setB, 10, 20);
renderChart("chart-c", "c) no absolute correction", setC, 10, 20);
renderChart("chart-d", "d) after absolute correction", setD, 9.96, 19.96);

renderLegend("legend-a", setA);
renderLegend("legend-b", setB);
renderLegend("legend-c", setC);
renderLegend("legend-d", setD);
</script>
</body>
</html>
